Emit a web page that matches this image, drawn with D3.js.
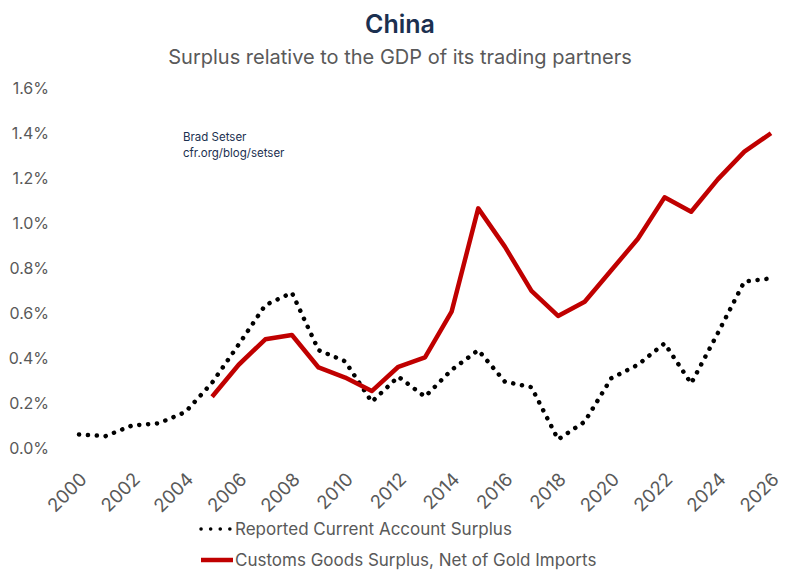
<!DOCTYPE html>
<html>
<head>
<meta charset="utf-8">
<script src="https://cdn.jsdelivr.net/npm/d3@7"></script>
<style>
  body { margin: 0; background: #fff; }
  text { font-family: Inter, "Open Sans", sans-serif; }
</style>
</head>
<body>
<div class="chart"></div>
<script>
// years and series
const years = d3.range(2000, 2027);
const currentAccount = [0.06, 0.053, 0.10, 0.11, 0.16, 0.29, 0.46, 0.635, 0.69, 0.435,
    0.385, 0.205, 0.317, 0.228, 0.347, 0.435, 0.295, 0.27, 0.038, 0.117,
    0.31, 0.37, 0.465, 0.287, 0.51, 0.74, 0.754];
const customsYears = d3.range(2005, 2027);
const customsGoods = [0.228, 0.37, 0.483, 0.502, 0.358, 0.313, 0.253, 0.361, 0.403, 0.606,
    1.065, 0.895, 0.698, 0.587, 0.65, 0.79, 0.93, 1.114, 1.05, 1.194,
    1.317, 1.399];
const yTicks = [0, 0.2, 0.4, 0.6, 0.8, 1.0, 1.2, 1.4, 1.6];
const xTicks = d3.range(2000, 2027, 2);
const legendLabels = ["Reported Current Account Surplus", "Customs Goods Surplus, Net of Gold Imports"];

const width = 799;
const height = 580;

const svg = d3.select(".chart")
    .append("svg")
    .attr("width", width)
    .attr("height", height);

const x = d3.scaleLinear().domain([2000, 2026]).range([79, 771]);
const y = d3.scaleLinear().domain([0, 1.6]).range([448, 88]);

// title
svg.append("text")
    .attr("x", 400).attr("y", 33)
    .attr("text-anchor", "middle")
    .attr("font-size", "25px")
    .attr("font-weight", "600")
    .attr("fill", "#1b3050")
    .text("China");

svg.append("text")
    .attr("x", 400).attr("y", 64)
    .attr("text-anchor", "middle")
    .attr("font-size", "20px")
    .attr("fill", "#595959")
    .text("Surplus relative to the GDP of its trading partners");

// source note
svg.append("text")
    .attr("x", 183).attr("y", 141)
    .attr("font-size", "11.5px")
    .attr("fill", "#1b3050")
    .text("Brad Setser");
svg.append("text")
    .attr("x", 183).attr("y", 157)
    .attr("font-size", "11.5px")
    .attr("fill", "#1b3050")
    .text("cfr.org/blog/setser");

// y axis
const yAxis = svg.append("g")
    .attr("transform", "translate(49,0)")
    .call(d3.axisLeft(y).tickValues(yTicks).tickSize(0).tickPadding(0)
        .tickFormat(d => d.toFixed(1) + "%"));
yAxis.select(".domain").remove();
yAxis.selectAll("text")
    .attr("font-size", "16px")
    .attr("fill", "#595959");

// x axis, labels turned 45 degrees
const xAxis = svg.append("g")
    .attr("transform", "translate(0,462)")
    .call(d3.axisBottom(x).tickValues(xTicks).tickSize(0).tickFormat(d3.format("d")));
xAxis.select(".domain").remove();
xAxis.selectAll("text")
    .attr("font-size", "18.5px")
    .attr("fill", "#595959")
    .attr("text-anchor", "end")
    .attr("y", 0)
    .attr("dy", "0.35em")
    .attr("transform", "translate(4,14) rotate(-45)");

// lines
const line = d3.line()
    .x(d => x(d[0]))
    .y(d => y(d[1]));

svg.append("path")
    .datum(d3.zip(years, currentAccount))
    .attr("d", line)
    .attr("fill", "none")
    .attr("stroke", "#000")
    .attr("stroke-width", 4.5)
    .attr("stroke-linecap", "round")
    .attr("stroke-dasharray", "0.1 8.8");

svg.append("path")
    .datum(d3.zip(customsYears, customsGoods))
    .attr("d", line)
    .attr("fill", "none")
    .attr("stroke", "#c00000")
    .attr("stroke-width", 4.5)
    .attr("stroke-linejoin", "round");

// legend
const legend = svg.append("g");
legend.append("line")
    .attr("x1", 201).attr("x2", 230)
    .attr("y1", 529).attr("y2", 529)
    .attr("stroke", "#000")
    .attr("stroke-width", 3.5)
    .attr("stroke-linecap", "round")
    .attr("stroke-dasharray", "0.1 9.5");
legend.append("line")
    .attr("x1", 201).attr("x2", 233)
    .attr("y1", 560).attr("y2", 560)
    .attr("stroke", "#c00000")
    .attr("stroke-width", 4.5);
legend.selectAll(".legend-label")
    .data(legendLabels)
    .enter()
    .append("text")
    .attr("class", "legend-label")
    .attr("x", 235)
    .attr("y", (d, i) => 535 + i * 31)
    .attr("font-size", "17px")
    .attr("fill", "#595959")
    .text(d => d);
</script>
</body>
</html>
